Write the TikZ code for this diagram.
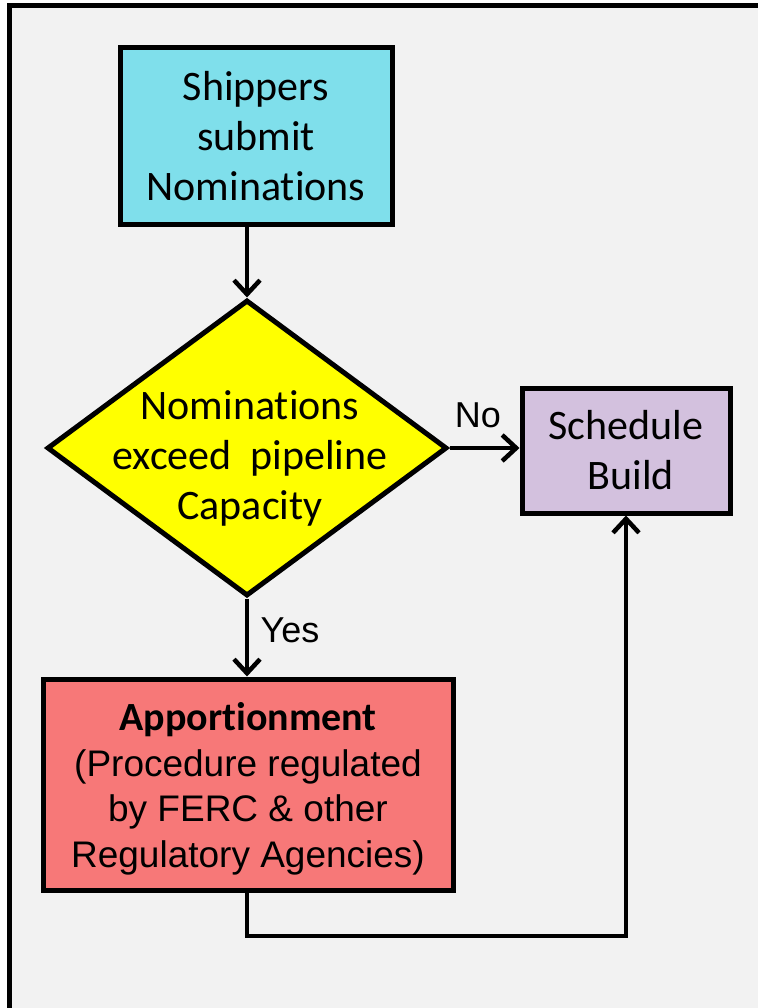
\documentclass[tikz,border=0pt]{standalone}
\usepackage{fontspec}
\setmainfont{Carlito}[Ligatures=NoCommon]
\newfontfamily\arialfont{Liberation Sans}
\usetikzlibrary{shapes.geometric,arrows.meta}
\definecolor{bgcol}{HTML}{F2F2F2}
\definecolor{cyanbox}{HTML}{7FDFEB}
\definecolor{lilacbox}{HTML}{D3C1DE}
\definecolor{salmonbox}{HTML}{F77878}
\definecolor{yellowbox}{HTML}{FFFF00}
\tikzset{
  box/.style={draw=black, line width=5pt, inner sep=0pt, align=center},
  calib/.style={font=\fontsize{42}{50}\selectfont},
  conn/.style={line width=4.5pt, -{Straight Barb[length=14pt,width=26pt]}},
  lbl/.style={font=\arialfont\fontsize{36}{40}\selectfont, inner sep=0pt}
}
\begin{document}
\begin{tikzpicture}[x=1pt,y=-1pt]
\useasboundingbox (0,0) rectangle (758,1008);
\fill[white] (0,0) rectangle (758,1008);
\fill[bgcol] (9.5,5.5) rectangle (758,1008);
\coordinate (fbl) at (9.5,1008);
\coordinate (ftl) at (9.5,5.5);
\coordinate (ftr) at (758,5.5);
\draw[line width=5pt] (fbl) -- (ftl) -- (ftr);

\node[box, fill=cyanbox, minimum width=272pt, minimum height=177pt, calib] (ship) at (256,136) {Shippers\\submit\\Nominations};

\node[draw=black, line width=5pt, fill=yellowbox, diamond, inner sep=0pt, minimum width=400pt, minimum height=296pt] (dec) at (247,448) {};
\node[calib, align=center, inner sep=0pt] (dectext) at (250,458) {Nominations\\exceed\ \ pipeline\\Capacity};

\node[box, fill=lilacbox, minimum width=208pt, minimum height=125pt, calib] (sched) at (626,450.5) {Schedule\\\ Build};

\node[box, fill=salmonbox, minimum width=410pt, minimum height=211pt] (app) at (248,784.5) {};
\node[align=center, inner sep=0pt, font=\arialfont\fontsize{37}{45.5}\selectfont] (apptext) at (248,789)
  {{\rmfamily\fontsize{40}{45.5}\selectfont\bfseries Apportionment}\\
   (Procedure regulated\\
   by FERC \& other\\
   Regulatory Agencies)};

\draw[conn] (ship.south -| dec.north) -- (dec.north);
\draw[conn] (dec.east) -- (sched.west |- dec.east);
\draw[conn] (dec.south) -- (app.north -| dec.south);
\coordinate (c1) at (247,936);
\coordinate (c2) at (sched.south |- c1);
\draw[conn] (app.south -| c1) -- (c1) -- (c2) -- (sched.south);

\node[lbl] (no) at (478,415) {No};
\node[lbl] (yes) at (290,630) {Yes};
\end{tikzpicture}
\end{document}
